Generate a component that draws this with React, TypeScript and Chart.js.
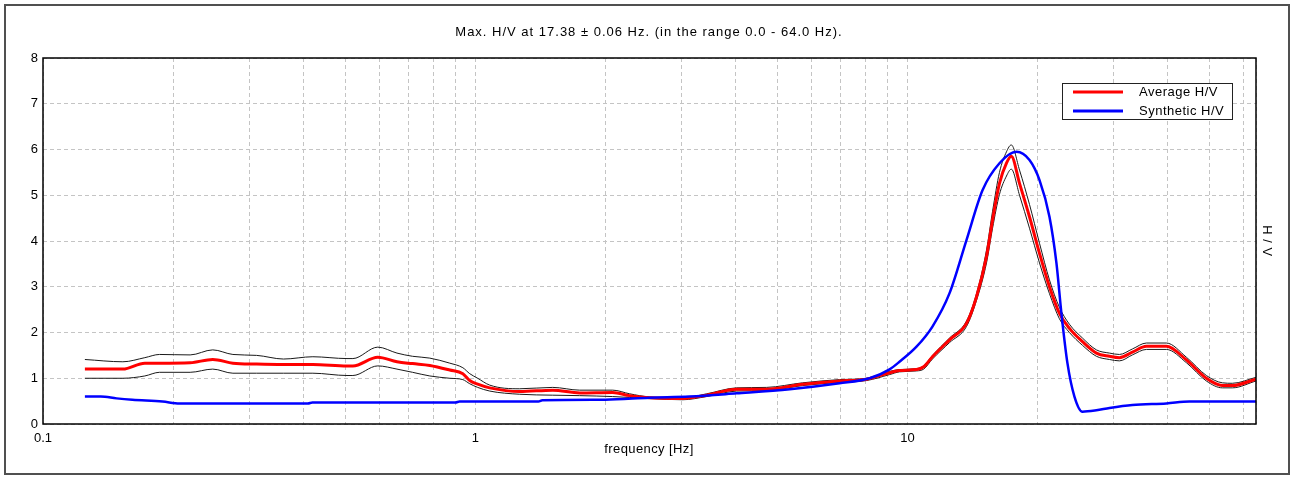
import React, { useEffect, useRef } from "react";
import { Chart, registerables } from "chart.js";

Chart.register(...registerables);

const FONT = '"Liberation Sans", Arial, sans-serif';

const TITLE = "Max. H/V at 17.38 ± 0.06 Hz. (in the range 0.0 - 64.0 Hz).";
const X_TITLE = "frequency [Hz]";
const Y_TITLE = "H / V";
const LEGEND_LABELS = ["Average H/V", "Synthetic H/V"];

const X_MIN = 0.1;
const X_MAX = 64;
const Y_MIN = 0;
const Y_MAX = 8;

const X_GRID = [
  0.1, 0.2, 0.3, 0.4, 0.5, 0.6, 0.7, 0.8, 0.9,
  1, 2, 3, 4, 5, 6, 7, 8, 9,
  10, 20, 30, 40, 50, 60, 64,
];
const X_LABELED = [0.1, 1, 10];

const FREQ_HV = [
  0.125, 0.153, 0.172, 0.186, 0.219, 0.247, 0.275, 0.312, 0.36, 0.421,
  0.505, 0.521, 0.595, 0.659, 0.716, 0.785, 0.873, 0.936, 0.971, 1.013,
  1.08, 1.267, 1.511, 1.744, 2.079, 2.276, 2.532, 3.019, 3.43, 4.024,
  4.721, 5.717, 6.962, 8.04, 9.09, 9.58, 10.49, 10.9, 11.42, 12.51,
  13.69, 14.44, 15.23, 15.73, 16.32, 16.94, 17.38, 18.16, 19.15, 20.2,
  21.3, 22.46, 23.69, 25.39, 27.35, 29.32, 30.92, 33.13, 35.7, 39.7,
  44.17, 49.13, 53.5, 56.41, 64,
];

const AVG_HV = [
  1.2, 1.2, 1.33, 1.33, 1.34, 1.41, 1.33, 1.31, 1.3, 1.3,
  1.27, 1.27, 1.46, 1.36, 1.32, 1.28, 1.18, 1.1, 0.95, 0.87,
  0.79, 0.71, 0.74, 0.68, 0.69, 0.62, 0.575, 0.56, 0.63, 0.76,
  0.76, 0.87, 0.94, 0.98, 1.12, 1.17, 1.19, 1.25, 1.47, 1.84,
  2.2, 2.78, 3.66, 4.46, 5.26, 5.7, 5.85, 5.26, 4.53, 3.73,
  3.0, 2.42, 2.09, 1.8, 1.55, 1.48, 1.45, 1.57, 1.7, 1.7,
  1.4, 1.0, 0.84, 0.84, 0.98,
];

const UPPER_HV = [
  1.41, 1.36, 1.45, 1.52, 1.51, 1.62, 1.52, 1.5, 1.42, 1.47,
  1.43, 1.43, 1.68, 1.55, 1.48, 1.44, 1.33, 1.23, 1.1, 1.0,
  0.85, 0.77, 0.8, 0.74, 0.74, 0.66, 0.59, 0.57, 0.66, 0.79,
  0.8, 0.9, 0.97, 1.0, 1.15, 1.19, 1.21, 1.27, 1.5, 1.88,
  2.25, 2.85, 3.8, 4.65, 5.5, 5.95, 6.1, 5.55, 4.8, 3.95,
  3.15, 2.55, 2.18, 1.88, 1.62, 1.55, 1.52, 1.64, 1.77, 1.77,
  1.46, 1.06, 0.9, 0.89, 1.02,
];

const LOWER_HV = [
  1.0, 1.0, 1.05, 1.13, 1.13, 1.2, 1.11, 1.11, 1.11, 1.11,
  1.06, 1.06, 1.27, 1.2, 1.13, 1.05, 1.0, 0.97, 0.88, 0.8,
  0.72, 0.65, 0.63, 0.62, 0.6, 0.58, 0.555, 0.53, 0.6, 0.72,
  0.73, 0.84, 0.91, 0.95, 1.08, 1.14, 1.16, 1.2, 1.42, 1.78,
  2.13, 2.7, 3.52, 4.28, 5.02, 5.42, 5.57, 5.0, 4.28, 3.52,
  2.85, 2.3, 2.0, 1.72, 1.48, 1.41, 1.38, 1.51, 1.63, 1.63,
  1.34, 0.94, 0.79, 0.79, 0.94,
];

const FREQ_SYN = [
  0.125, 0.136, 0.148, 0.161, 0.189, 0.207, 0.41, 0.42, 0.9, 0.92,
  1.4, 1.43, 2.0, 2.53, 3.13, 4.02, 5.34, 6.96, 8.17, 9.09,
  9.58, 10.49, 11.42, 12.51, 13.69, 14.91, 16.32, 17.87, 19.15, 20.2,
  21.3, 22.11, 22.7, 23.44, 24.33, 25.39, 27.35, 29.32, 33.13, 39.7,
  44.88, 64,
];

const SYN_HV = [
  0.6, 0.6, 0.56, 0.53, 0.49, 0.45, 0.45, 0.47, 0.47, 0.49,
  0.49, 0.52, 0.53, 0.575, 0.6, 0.67, 0.76, 0.89, 1.0, 1.195,
  1.36, 1.69, 2.13, 2.86, 4.02, 5.11, 5.7, 5.95, 5.77, 5.33,
  4.53, 3.51, 2.42, 1.33, 0.6, 0.27, 0.3, 0.35, 0.415, 0.45,
  0.49, 0.49,
];

const toPoints = (xs: number[], ys: number[]) => xs.map((x, i) => ({ x, y: ys[i] }));

const setSpacing = (ctx: any, px: number) => {
  if ("letterSpacing" in ctx) ctx.letterSpacing = `${px}px`;
};

const decorPlugin = {
  id: "decor",
  beforeDraw(chart: any) {
    const { ctx, width, height } = chart;
    ctx.save();
    ctx.fillStyle = "#ffffff";
    ctx.fillRect(0, 0, width, height);
    ctx.restore();
  },
  afterDraw(chart: any) {
    const { ctx, chartArea } = chart;
    const { left, top, right, bottom } = chartArea;
    ctx.save();
    // outer frame
    ctx.strokeStyle = "#505050";
    ctx.lineWidth = 2;
    ctx.strokeRect(5, 5, 1284, 469);
    // plot frame
    ctx.strokeStyle = "#000000";
    ctx.lineWidth = 1.5;
    ctx.strokeRect(left, top, right - left, bottom - top);
    // title
    ctx.fillStyle = "#000000";
    ctx.font = `13px ${FONT}`;
    ctx.textAlign = "center";
    ctx.textBaseline = "middle";
    setSpacing(ctx, 1);
    ctx.fillText(TITLE, 649, 32);
    // x title
    setSpacing(ctx, 0.4);
    ctx.fillText(X_TITLE, 649, 449);
    // y title (right, rotated clockwise)
    ctx.save();
    ctx.translate(1267, (top + bottom) / 2);
    ctx.rotate(Math.PI / 2);
    setSpacing(ctx, 0.5);
    ctx.fillText(Y_TITLE, 0, 0);
    ctx.restore();
    // legend
    const lx = 1062, ly = 83, lw = 170, lh = 36;
    ctx.fillStyle = "#ffffff";
    ctx.fillRect(lx, ly, lw, lh);
    ctx.strokeStyle = "#222222";
    ctx.lineWidth = 1;
    ctx.strokeRect(lx + 0.5, ly + 0.5, lw, lh);
    const colors = ["#ff0000", "#0000ff"];
    setSpacing(ctx, 0.5);
    LEGEND_LABELS.forEach((label, i) => {
      const yy = ly + 9 + i * 19;
      ctx.strokeStyle = colors[i];
      ctx.lineWidth = 3;
      ctx.beginPath();
      ctx.moveTo(lx + 11, yy);
      ctx.lineTo(lx + 61, yy);
      ctx.stroke();
      ctx.fillStyle = "#000000";
      ctx.textAlign = "left";
      ctx.fillText(label, lx + 77, yy);
    });
    ctx.restore();
  },
};

export default function App() {
  const ref = useRef<HTMLCanvasElement>(null);
  useEffect(() => {
    document.body.style.margin = "0";
    const chart = new Chart(ref.current!, {
      type: "line",
      data: {
        datasets: [
          {
            label: LEGEND_LABELS[1],
            data: toPoints(FREQ_SYN, SYN_HV),
            borderColor: "#0000ff",
            borderWidth: 2.5,
            pointRadius: 0,
            cubicInterpolationMode: "monotone",
            order: 0,
          },
          {
            label: LEGEND_LABELS[0],
            data: toPoints(FREQ_HV, AVG_HV),
            borderColor: "#ff0000",
            borderWidth: 3,
            pointRadius: 0,
            cubicInterpolationMode: "monotone",
            order: 1,
          },
          {
            label: "upper",
            data: toPoints(FREQ_HV, UPPER_HV),
            borderColor: "#1a1a1a",
            borderWidth: 1,
            pointRadius: 0,
            cubicInterpolationMode: "monotone",
            order: 2,
          },
          {
            label: "lower",
            data: toPoints(FREQ_HV, LOWER_HV),
            borderColor: "#1a1a1a",
            borderWidth: 1,
            pointRadius: 0,
            cubicInterpolationMode: "monotone",
            order: 2,
          },
        ],
      },
      options: {
        animation: false,
        responsive: false,
        devicePixelRatio: 1,
        layout: { padding: { top: 58, right: 36, bottom: 0, left: 0 } },
        plugins: { legend: { display: false }, tooltip: { enabled: false }, title: { display: false } },
        scales: {
          x: {
            type: "logarithmic",
            min: X_MIN,
            max: X_MAX,
            afterBuildTicks: (s: any) => {
              s.ticks = X_GRID.map((v) => ({ value: v }));
            },
            afterFit: (s: any) => {
              s.height = 53;
            },
            ticks: {
              autoSkip: false,
              maxRotation: 0,
              color: "#000000",
              font: { family: FONT, size: 13 },
              padding: 7,
              callback: (v: any) => (X_LABELED.includes(Number(v)) ? String(v) : ""),
            },
            grid: { color: "#c4c4c4", drawTicks: false, lineWidth: 1 },
            border: { display: false, dash: [4, 3] },
          },
          y: {
            min: Y_MIN,
            max: Y_MAX,
            afterFit: (s: any) => {
              s.width = 43;
            },
            ticks: {
              stepSize: 1,
              color: "#000000",
              font: { family: FONT, size: 13 },
              padding: 5,
            },
            grid: { color: "#c4c4c4", drawTicks: false, lineWidth: 1 },
            border: { display: false, dash: [4, 3] },
          },
        },
      },
      plugins: [decorPlugin],
    } as any);
    return () => chart.destroy();
  }, []);
  return <canvas ref={ref} width={1292} height={477} style={{ display: "block" }} />;
}
